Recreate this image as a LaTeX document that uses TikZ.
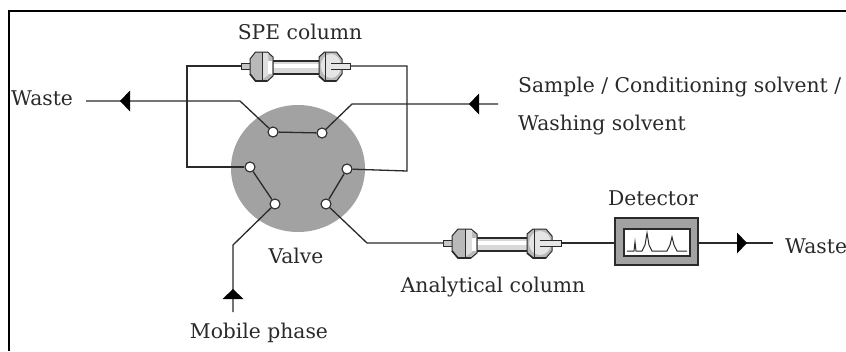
\documentclass[tikz,border=0pt]{standalone}
\usepackage{fontspec}
\usetikzlibrary{shapes.geometric}
\setmainfont{DejaVu Serif}
\definecolor{ink}{HTML}{2A2A2A}
\definecolor{disc}{HTML}{A2A2A2}
\tikzset{
  x=1pt,y=-1pt,
  label text/.style={font=\fontsize{20.3}{24}\selectfont,text=ink,inner sep=0pt},
  port/.style={circle,draw=ink,fill=white,line width=1.1pt,inner sep=0pt,minimum size=10pt},
  conn/.style={draw=ink,line width=1.3pt},
  flowtip/.pic={\fill[black] (-5,0) -- (5,-10.5) -- (5,10.5) -- cycle;},
  capface/.style={draw=ink,line width=1pt,fill=#1},
  hplc/.pic={
    % stubs behind the body
    \draw[capface=gray!45] (-59,-3) rectangle (-48,3);
    % tube
    \draw[draw=ink,line width=1.2pt,fill=gray!30] (-27,-5) rectangle (27,8);
    \fill[white] (-27,-2) rectangle (27,2);
    % left cap
    \draw[capface=gray!55] (-50,-7) -- (-44,-14) -- (-31,-14) -- (-25,-9) -- (-25,10) -- (-31,15) -- (-44,15) -- (-50,8) -- cycle;
    \fill[gray!25] (-36,-13) -- (-30,-13) -- (-30,9) -- (-36,13) -- cycle;
    \fill[white] (-30,-5) rectangle (-26,8);
    \draw[ink,line width=1.6pt] (-50,8) -- (-44,15) -- (-31,15);
    \draw[ink,line width=.8pt] (-37,-14) -- (-37,15);
    % right cap
    \draw[capface=gray!55] (25,-9) -- (31,-14) -- (44,-14) -- (50,-7) -- (50,8) -- (44,15) -- (31,15) -- (25,10) -- cycle;
    \fill[gray!20] (38,0) ellipse (11 and 12);
    \draw[ink,line width=1.6pt] (25,10) -- (31,15) -- (44,15);
    \draw[ink,line width=.8pt] (32,-14) -- (32,15);
    \draw[capface=gray!20] (38,-3) -- (59,-3) -- (59,3) -- (38,3);
  }
}
\begin{document}
\begin{tikzpicture}
\useasboundingbox (0,0) rectangle (846,351);
\clip (0,0) rectangle (846,351);
\fill[white] (0,0) rectangle (846,351);
% frame: only the top and left edges fall inside the image
\coordinate (frameBL) at (8.5,351);
\coordinate (frameTL) at (8.5,11);
\coordinate (frameTR) at (846,11);
\draw[black,line width=2pt] (frameBL) -- (frameTL) -- (frameTR);

% valve body and ports
\node[ellipse,fill=disc,inner sep=0pt,minimum width=134pt,minimum height=127pt] (valve) at (298,168.5) {};
\node[port] (pTL) at (273,132) {};
\node[port] (pTR) at (322,133) {};
\node[port] (pL)  at (250,167) {};
\node[port] (pR)  at (347,169) {};
\node[port] (pBL) at (275,204) {};
\node[port] (pBR) at (326,204) {};

% bend points and free ends
\coordinate (wasteEnd) at (86,101);
\coordinate (bendTL) at (240,101);
\coordinate (bendTR) at (352,104);
\coordinate (sampleEnd) at (498,104);
\coordinate (loopLtop) at (187,66);
\coordinate (loopLbot) at (187,167);
\coordinate (loopRtop) at (407,66);
\coordinate (loopRbot) at (407,171);
\coordinate (speL) at (243,66);
\coordinate (speR) at (350,66);
\coordinate (bendBL) at (233,245);
\coordinate (mobileEnd) at (233,312);
\coordinate (bendBR) at (367,243);
\coordinate (anaL) at (443,243);
\coordinate (anaR) at (561,243);
\coordinate (wasteOut) at (773,243);

% detector
\node[draw=ink,fill=disc,line width=2pt,inner sep=0pt,minimum width=83pt,minimum height=47pt] (detector) at (656.5,241.5) {};

% connectors
\draw[conn] (wasteEnd) -- (bendTL) -- (pTL);
\draw[conn] (pTL) -- (pTR);
\draw[conn] (pTR) -- (bendTR) -- (sampleEnd);
\draw[conn] (speL) -- (loopLtop) -- (loopLbot) -- (pL);
\draw[conn] (speR) -- (loopRtop) -- (loopRbot) -- (pR);
\draw[conn] (pL) -- (pBL);
\draw[conn] (pR) -- (pBR);
\draw[conn] (pBL) -- (bendBL) -- (mobileEnd);
\draw[conn] (pBR) -- (bendBR) -- (anaL);
\draw[conn] (anaR) -- (detector.west |- anaR);
\draw[conn] (detector.east |- wasteOut) -- (wasteOut);

% columns
\pic[xscale=0.92] at (296,66) {hplc};
\pic at (502,243) {hplc};

% detector screen
\draw[draw=ink,fill=white,line width=1.2pt] (624,229) rectangle (690,256);
\draw[ink,line width=1pt] (627,251) -- (634,251) -- (635,242) -- (636,251) -- (642,251) -- (645,245) -- (647,233) -- (649,245) -- (652,251) -- (667,251) -- (670,245) -- (672,237) -- (674,245) -- (677,251) -- (687,251);

% flow direction marks
\pic at (125,101) {flowtip};
\pic at (474,104) {flowtip};
\pic[rotate=-90] at (233,294) {flowtip};
\pic[rotate=180] at (742,243) {flowtip};

% labels
\node[label text] (tSPE) at (300,32) {SPE column};
\node[label text,anchor=west] (tWasteL) at (11,98) {Waste};
\node[label text,anchor=west] (tSample) at (518,87) {Sample / Conditioning solvent /};
\node[label text,anchor=west] (tWash) at (518,125) {Washing solvent};
\node[label text] (tDet) at (653,198) {Detector};
\node[label text] (tValve) at (296,256) {Valve};
\node[label text] (tAna) at (493,287) {Analytical column};
\node[label text] (tMob) at (259,333) {Mobile phase};
\node[label text,anchor=west] (tWasteR) at (785,246) {Waste};
\end{tikzpicture}
\end{document}
